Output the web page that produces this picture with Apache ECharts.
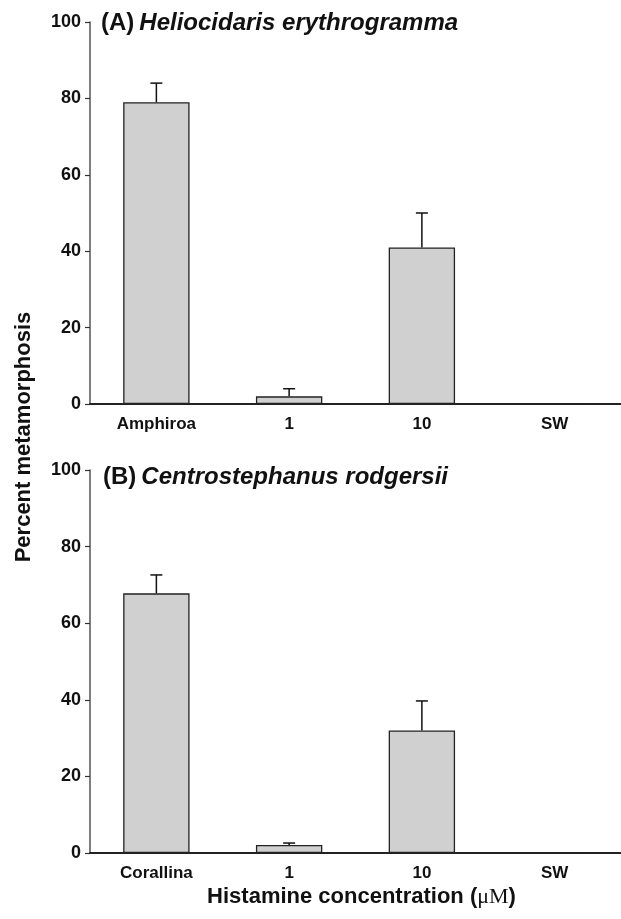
<!DOCTYPE html>
<html>
<head>
<meta charset="utf-8">
<script src="https://cdn.jsdelivr.net/npm/echarts@6/dist/echarts.min.js"></script>
<style>
  html, body { margin: 0; padding: 0; background: #fff; }
  #chart { width: 621px; height: 919px; }
</style>
</head>
<body>
<div id="chart"></div>
<script>
// values (mean and standard error, %)
var catsA = ['Amphiroa', '1', '10', 'SW'];
var catsB = ['Corallina', '1', '10', 'SW'];
var meanA = [79, 2, 41, 0];
var seA = [5, 2, 9, 0];
var meanB = [67.8, 2.1, 32, 0];
var seB = [4.8, 0.5, 7.7, 0];
var yTicks = [0, 20, 40, 60, 80, 100];

var FONT = '"Liberation Sans", Arial, Helvetica, sans-serif';
var INK = '#111';

var chart = echarts.init(document.getElementById('chart'));

function errData(means, ses) {
  return means.map(function (m, i) { return [i, m, ses[i]]; });
}

function renderErr(params, api) {
  var m = api.value(1), e = api.value(2);
  if (!e) return;
  var base = api.coord([api.value(0), m]);
  var top = api.coord([api.value(0), m + e]);
  var half = 6;
  return {
    type: 'group',
    children: [
      { type: 'line', shape: { x1: base[0], y1: base[1], x2: top[0], y2: top[1] },
        style: { stroke: INK, lineWidth: 1.5 } },
      { type: 'line', shape: { x1: top[0] - half, y1: top[1], x2: top[0] + half, y2: top[1] },
        style: { stroke: INK, lineWidth: 1.5 } }
    ]
  };
}

function xAx(idx, cats, extra) {
  var ax = {
    type: 'category',
    gridIndex: idx,
    data: cats,
    axisLine: { lineStyle: { color: '#222', width: 2 } },
    axisTick: { alignWithLabel: true, length: 4, lineStyle: { color: '#222', width: 1.2 } },
    axisLabel: { color: INK, fontFamily: FONT, fontWeight: 'bold', fontSize: 17, margin: 12 }
  };
  return Object.assign(ax, extra || {});
}

function yAx(idx) {
  return {
    type: 'value',
    gridIndex: idx,
    min: yTicks[0],
    max: yTicks[yTicks.length - 1],
    interval: yTicks[1] - yTicks[0],
    splitLine: { show: false },
    axisLine: { show: true, lineStyle: { color: '#555', width: 1.5 } },
    axisTick: { show: true, length: 5, lineStyle: { color: '#333', width: 1.2 } },
    axisLabel: { color: INK, fontFamily: FONT, fontWeight: 'bold', fontSize: 18, margin: 9 }
  };
}

var barStyle = { color: '#d0d0d0', borderColor: '#222', borderWidth: 1.3 };

var option = {
  animation: false,
  backgroundColor: '#fff',
  title: [
    {
      text: '{a|(A)} {b|Heliocidaris erythrogramma}',
      left: 96, top: 6,
      textStyle: { rich: {
        a: { fontFamily: FONT, fontWeight: 'bold', fontSize: 24, color: INK },
        b: { fontFamily: FONT, fontWeight: 'bold', fontStyle: 'italic', fontSize: 24, color: INK }
      } }
    },
    {
      text: '{a|(B)} {b|Centrostephanus rodgersii}',
      left: 98, top: 460,
      textStyle: { rich: {
        a: { fontFamily: FONT, fontWeight: 'bold', fontSize: 24, color: INK },
        b: { fontFamily: FONT, fontWeight: 'bold', fontStyle: 'italic', fontSize: 24, color: INK }
      } }
    }
  ],
  grid: [
    { left: 90, top: 22, width: 531, height: 382 },
    { left: 90, top: 470, width: 531, height: 383 }
  ],
  xAxis: [
    xAx(0, catsA),
    xAx(1, catsB, {
      name: '{a|Histamine concentration (}{b|μM}{a|)}',
      nameLocation: 'middle',
      nameGap: 33,
      nameTextStyle: {
        padding: [0, 0, 0, 12],
        rich: {
          a: { fontFamily: FONT, fontWeight: 'bold', fontSize: 22, color: INK },
          b: { fontFamily: '"Liberation Serif", "Times New Roman", serif', fontSize: 22, color: INK }
        }
      }
    })
  ],
  yAxis: [yAx(0), yAx(1)],
  graphic: [
    {
      type: 'text',
      x: 24, y: 437,
      rotation: Math.PI / 2,
      style: {
        text: 'Percent metamorphosis',
        fontFamily: FONT, fontWeight: 'bold', fontSize: 22, fill: INK,
        textAlign: 'center', textVerticalAlign: 'middle'
      }
    }
  ],
  series: [
    { name: 'A', type: 'bar', xAxisIndex: 0, yAxisIndex: 0, barWidth: '50%',
      data: meanA, itemStyle: barStyle },
    { name: 'A err', type: 'custom', xAxisIndex: 0, yAxisIndex: 0,
      renderItem: renderErr, data: errData(meanA, seA), encode: { x: 0, y: 1 }, z: 5 },
    { name: 'B', type: 'bar', xAxisIndex: 1, yAxisIndex: 1, barWidth: '50%',
      data: meanB, itemStyle: barStyle },
    { name: 'B err', type: 'custom', xAxisIndex: 1, yAxisIndex: 1,
      renderItem: renderErr, data: errData(meanB, seB), encode: { x: 0, y: 1 }, z: 5 }
  ]
};

chart.setOption(option);
</script>
</body>
</html>
